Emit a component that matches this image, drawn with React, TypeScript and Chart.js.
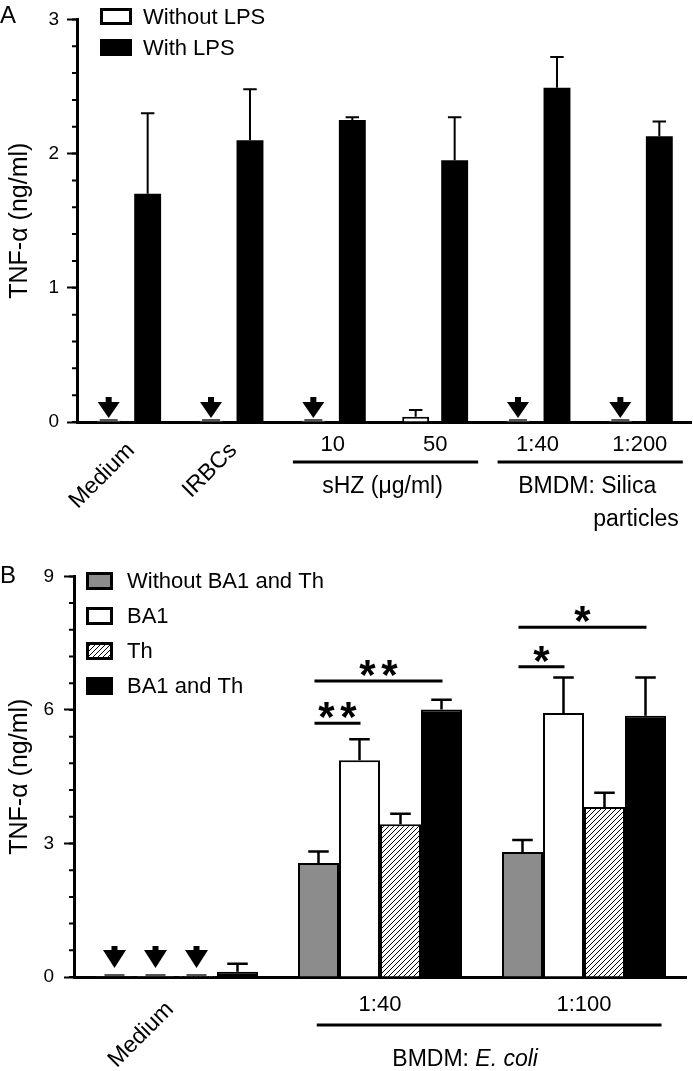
import React, { useEffect, useRef } from 'react';
import { Chart, registerables } from 'chart.js';

Chart.register(...registerables);

const FONT = '"Liberation Sans", Arial, Helvetica, sans-serif';

// ---------------- Panel A data ----------------
const aCategories = ['Medium', 'IRBCs', '10', '50', '1:40', '1:200'];
const aRotated = [true, true, false, false, false, false];
const aSeriesLabels = ['Without LPS', 'With LPS'];
const aWithout = [0.01, 0.01, 0.01, 0.04, 0.01, 0.01];
const aWithoutErr = [0, 0, 0, 0.05, 0, 0];
const aWithoutND = [true, true, true, false, true, true];
const aWith = [1.7, 2.1, 2.25, 1.95, 2.49, 2.13];
const aWithErr = [0.6, 0.38, 0.02, 0.32, 0.23, 0.11];
const aWithND = [false, false, false, false, false, false];
const aYMax = 3;
const aYStep = 1;
const aGroups = [
  { from: 2, to: 3, lines: [[{ text: 'sHZ (\u03bcg/ml)' }]] },
  { from: 4, to: 5, lines: [[{ text: 'BMDM: Silica' }], [{ text: 'particles' }]] },
];

// ---------------- Panel B data ----------------
const bCategories = ['Medium', '1:40', '1:100'];
const bRotated = [true, false, false];
const bSeriesLabels = ['Without BA1 and Th', 'BA1', 'Th', 'BA1 and Th'];
const bNone = [0.02, 2.56, 2.81];
const bNoneErr = [0, 0.26, 0.27];
const bNoneND = [true, false, false];
const bBA1 = [0.02, 4.87, 5.93];
const bBA1Err = [0, 0.47, 0.8];
const bBA1ND = [true, false, false];
const bTh = [0.02, 3.43, 3.82];
const bThErr = [0, 0.24, 0.32];
const bThND = [true, false, false];
const bBoth = [0.12, 6.01, 5.87];
const bBothErr = [0.18, 0.22, 0.86];
const bBothND = [false, false, false];
const bYMax = 9;
const bYStep = 3;
const bSig = [
  { cat: 1, from: 0, to: 1, y: 5.7, label: '**' },
  { cat: 1, from: 0, to: 3, y: 6.65, label: '**' },
  { cat: 2, from: 0, to: 1, y: 6.97, label: '*' },
  { cat: 2, from: 0, to: 3, y: 7.86, label: '*' },
];
const bGroups = [
  { from: 1, to: 2, lines: [[{ text: 'BMDM: ' }, { text: 'E. coli', italic: true }]] },
];

const yTitle = 'TNF-\u03b1 (ng/ml)';

function drawArrow(ctx: any, x: number, tipY: number, a: any) {
  ctx.save();
  ctx.fillStyle = '#000';
  ctx.beginPath();
  ctx.moveTo(x - a.headW / 2, tipY - a.headH);
  ctx.lineTo(x + a.headW / 2, tipY - a.headH);
  ctx.lineTo(x, tipY);
  ctx.closePath();
  ctx.fill();
  ctx.fillRect(x - a.stemW / 2, tipY - a.headH - a.stemH, a.stemW, a.stemH + 1);
  ctx.restore();
}

function drawSegs(ctx: any, segs: any[], x: number, y: number, size: number, align: string) {
  const fonts = segs.map((s) => `${s.italic ? 'italic ' : ''}${size}px ${FONT}`);
  const widths = segs.map((s, i) => {
    ctx.font = fonts[i];
    return ctx.measureText(s.text).width;
  });
  const total = widths.reduce((p, c) => p + c, 0);
  let cx = align === 'right' ? x - total : x - total / 2;
  ctx.textAlign = 'left';
  ctx.textBaseline = 'middle';
  segs.forEach((s, i) => {
    ctx.font = fonts[i];
    ctx.fillText(s.text, cx, y);
    cx += widths[i];
  });
}

const figPlugin: any = {
  id: 'fig',
  afterDatasetsDraw(chart: any, _args: any, opts: any) {
    const ctx = chart.ctx;
    const ys = chart.scales.y;
    const base = ys.getPixelForValue(0);
    chart.data.datasets.forEach((ds: any, di: number) => {
      const meta = chart.getDatasetMeta(di);
      meta.data.forEach((bar: any, i: number) => {
        const v = ds.data[i];
        const e = (ds.err && ds.err[i]) || 0;
        if (e > 0) {
          const yTop = ys.getPixelForValue(v + e);
          const yBar = ys.getPixelForValue(v);
          const half = (bar.width * opts.capRatio) / 2;
          ctx.save();
          ctx.strokeStyle = '#000';
          ctx.lineWidth = opts.errWidth;
          ctx.beginPath();
          ctx.moveTo(bar.x, yBar);
          ctx.lineTo(bar.x, yTop);
          ctx.moveTo(bar.x - half, yTop);
          ctx.lineTo(bar.x + half, yTop);
          ctx.stroke();
          ctx.restore();
        }
        if (ds.nd && ds.nd[i]) {
          ctx.save();
          ctx.fillStyle = '#555';
          ctx.fillRect(bar.x - opts.ndLine / 2, base - 3, opts.ndLine, 2);
          ctx.restore();
          drawArrow(ctx, bar.x, base - opts.arrow.gap, opts.arrow);
        }
      });
    });
  },
  afterDraw(chart: any, _args: any, opts: any) {
    const ctx = chart.ctx;
    const xs = chart.scales.x;
    const ys = chart.scales.y;
    const area = chart.chartArea;
    const base = ys.getPixelForValue(0);
    const labels = chart.data.labels;
    const catW = xs.width / labels.length;
    ctx.save();
    ctx.fillStyle = '#000';
    ctx.strokeStyle = '#000';

    // minor ticks on y axis
    ctx.lineWidth = 2;
    ctx.beginPath();
    const n = Math.round(ys.max / opts.minorStep);
    for (let k = 0; k <= n; k++) {
      const y = ys.getPixelForValue(k * opts.minorStep);
      ctx.moveTo(area.left - opts.minorLen, y);
      ctx.lineTo(area.left, y);
    }
    ctx.stroke();

    // category labels
    labels.forEach((lab: string, i: number) => {
      const x = xs.getPixelForValue(i);
      if (opts.rotated[i]) {
        ctx.save();
        ctx.font = `${opts.rotFont}px ${FONT}`;
        ctx.translate(x + opts.rot.dx, base + opts.rot.dy);
        ctx.rotate(-Math.PI / 4);
        ctx.textAlign = 'right';
        ctx.textBaseline = 'middle';
        ctx.fillText(lab, 0, 0);
        ctx.restore();
      } else {
        ctx.font = `${opts.catFont}px ${FONT}`;
        ctx.textAlign = 'center';
        ctx.textBaseline = 'middle';
        ctx.fillText(lab, x, base + opts.catDy);
      }
    });

    // group brackets
    opts.groups.forEach((g: any) => {
      const x1 = xs.getPixelForValue(g.from) + opts.bracket[0] * catW;
      const x2 = xs.getPixelForValue(g.to) + opts.bracket[1] * catW;
      const y = base + opts.bracketDy;
      ctx.lineWidth = 3;
      ctx.beginPath();
      ctx.moveTo(x1, y);
      ctx.lineTo(x2, y);
      ctx.stroke();
      g.lines.forEach((segs: any[], li: number) => {
        const spec = opts.groupLines[li];
        const ax = spec.align === 'right' ? x2 + spec.dx : (x1 + x2) / 2 + spec.dx;
        drawSegs(ctx, segs, ax, base + spec.dy, opts.groupFont, spec.align);
      });
    });

    // significance bars
    (opts.sig || []).forEach((s: any) => {
      const xa = chart.getDatasetMeta(s.from).data[s.cat].x - 4;
      const xb = chart.getDatasetMeta(s.to).data[s.cat].x + 1;
      const y = ys.getPixelForValue(s.y);
      ctx.lineWidth = 3;
      ctx.beginPath();
      ctx.moveTo(xa, y);
      ctx.lineTo(xb, y);
      ctx.stroke();
      ctx.font = `bold ${opts.starFont}px ${FONT}`;
      ctx.textAlign = 'center';
      ctx.textBaseline = 'alphabetic';
      const chars = s.label.split('');
      const mid = (xa + xb) / 2;
      chars.forEach((c: string, k: number) => {
        const cx = mid + (k - (chars.length - 1) / 2) * opts.starGap;
        ctx.fillText(c, cx, y + opts.starDy);
      });
    });

    // legend
    const L = opts.legend;
    chart.data.datasets.forEach((ds: any, i: number) => {
      const y = L.y + i * L.gap;
      ctx.fillStyle = ds.backgroundColor;
      ctx.fillRect(L.x, y, L.w, L.h);
      ctx.lineWidth = L.lw;
      ctx.strokeStyle = '#000';
      ctx.strokeRect(L.x + L.lw / 2, y + L.lw / 2, L.w - L.lw, L.h - L.lw);
      ctx.fillStyle = '#000';
      ctx.font = `${L.font}px ${FONT}`;
      ctx.textAlign = 'left';
      ctx.textBaseline = 'middle';
      ctx.fillText(ds.label, L.textX, y + L.h / 2 + 1);
    });

    // panel letter
    ctx.font = `${opts.letterFont}px ${FONT}`;
    ctx.textAlign = 'left';
    ctx.textBaseline = 'alphabetic';
    ctx.fillText(opts.letter, 0, opts.letterBaseline);
    ctx.restore();
  },
};

function makeHatch(ctx: any) {
  const c = document.createElement('canvas');
  c.width = 5;
  c.height = 5;
  const g = c.getContext('2d') as any;
  g.fillStyle = '#fff';
  g.fillRect(0, 0, 5, 5);
  g.strokeStyle = '#000';
  g.lineWidth = 1;
  g.beginPath();
  g.moveTo(0, 5);
  g.lineTo(5, 0);
  g.moveTo(-1, 1);
  g.lineTo(1, -1);
  g.moveTo(4, 6);
  g.lineTo(6, 4);
  g.stroke();
  return ctx.createPattern(c, 'repeat');
}

function baseScales(yMax: number, yStep: number, xHeight: number, yWidth: number, tickPad: number) {
  return {
    x: {
      z: 1,
      grid: { display: false, drawTicks: false },
      border: { display: true, color: '#000', width: 3 },
      ticks: { display: false },
      afterFit: (s: any) => {
        s.height = xHeight;
      },
    },
    y: {
      z: 1,
      min: 0,
      max: yMax,
      ticks: { stepSize: yStep, color: '#000', font: { size: 19, family: FONT }, padding: tickPad },
      grid: { drawOnChartArea: false, tickLength: 10, tickWidth: 2, tickColor: '#000' },
      border: { display: true, color: '#000', width: 3 },
      title: {
        display: true,
        text: yTitle,
        color: '#000',
        font: { size: 25, family: FONT },
        padding: { top: 5, bottom: 0 },
      },
      afterFit: (s: any) => {
        s.width = yWidth;
      },
    },
  };
}

function configA(ctx: any) {
  return {
    type: 'bar',
    data: {
      labels: aCategories,
      datasets: [
        {
          label: aSeriesLabels[0],
          data: aWithout,
          err: aWithoutErr,
          nd: aWithoutND,
          backgroundColor: '#ffffff',
          borderColor: '#000',
          borderWidth: 2,
        },
        {
          label: aSeriesLabels[1],
          data: aWith,
          err: aWithErr,
          nd: aWithND,
          backgroundColor: '#000000',
          borderColor: '#000',
          borderWidth: 0,
        },
      ],
    },
    options: {
      responsive: false,
      animation: false,
      devicePixelRatio: 1,
      categoryPercentage: 0.762,
      barPercentage: 0.69,
      layout: { padding: { top: 14, right: 2, left: 0, bottom: 0 } },
      plugins: {
        legend: { display: false },
        tooltip: { enabled: false },
        fig: {
          rotated: aRotated,
          groups: aGroups,
          catFont: 22,
          rotFont: 23,
          groupFont: 23,
          catDy: 23,
          rot: { dx: 3, dy: 25 },
          bracketDy: 40,
          bracket: [-0.39, 0.42],
          groupLines: [
            { dy: 65, align: 'center', dx: -3 },
            { dy: 98, align: 'right', dx: -4 },
          ],
          arrow: { gap: 4, headH: 16, headW: 22, stemH: 5, stemW: 6 },
          ndLine: 18,
          capRatio: 0.5,
          errWidth: 2,
          minorStep: 0.2,
          minorLen: 5,
          legend: { x: 100, y: 8, w: 32, h: 17, gap: 31, textX: 143, font: 22, lw: 3 },
          letter: 'A',
          letterFont: 24,
          letterBaseline: 23,
        },
      },
      scales: baseScales(aYMax, aYStep, 133, 77, 8),
    },
    plugins: [figPlugin],
  };
}

function configB(ctx: any) {
  const hatch = makeHatch(ctx);
  return {
    type: 'bar',
    data: {
      labels: bCategories,
      datasets: [
        { label: bSeriesLabels[0], data: bNone, err: bNoneErr, nd: bNoneND, backgroundColor: '#8c8c8c', borderColor: '#000', borderWidth: 2 },
        { label: bSeriesLabels[1], data: bBA1, err: bBA1Err, nd: bBA1ND, backgroundColor: '#ffffff', borderColor: '#000', borderWidth: 2 },
        { label: bSeriesLabels[2], data: bTh, err: bThErr, nd: bThND, backgroundColor: hatch, borderColor: '#000', borderWidth: 2 },
        { label: bSeriesLabels[3], data: bBoth, err: bBothErr, nd: bBothND, backgroundColor: '#000000', borderColor: '#000', borderWidth: 2 },
      ],
    },
    options: {
      responsive: false,
      animation: false,
      devicePixelRatio: 1,
      categoryPercentage: 0.804,
      barPercentage: 1.0,
      layout: { padding: { top: 17, right: 7, left: 0, bottom: 0 } },
      plugins: {
        legend: { display: false },
        tooltip: { enabled: false },
        fig: {
          rotated: bRotated,
          groups: bGroups,
          sig: bSig,
          starFont: 42,
          starGap: 22,
          starDy: 8,
          catFont: 22,
          rotFont: 23,
          groupFont: 23,
          catDy: 28,
          rot: { dx: -6, dy: 29 },
          bracketDy: 48,
          bracket: [-0.31, 0.38],
          groupLines: [{ dy: 83, align: 'center', dx: -24 }],
          arrow: { gap: 9, headH: 18, headW: 23, stemH: 4, stemW: 6 },
          ndLine: 20,
          capRatio: 0.5,
          errWidth: 2.5,
          minorStep: 0.6,
          minorLen: 5,
          legend: { x: 86, y: 17, w: 27, h: 18, gap: 35, textX: 127, font: 22, lw: 3 },
          letter: 'B',
          letterFont: 24,
          letterBaseline: 28,
        },
      },
      scales: baseScales(bYMax, bYStep, 94, 74, 10),
    },
    plugins: [figPlugin],
  };
}

function Panel({ make, width, height }: { make: (ctx: any) => any; width: number; height: number }) {
  const ref = useRef<HTMLCanvasElement>(null);
  useEffect(() => {
    const canvas = ref.current as HTMLCanvasElement;
    const chart = new Chart(canvas, make(canvas.getContext('2d')));
    return () => chart.destroy();
  }, []);
  return <canvas ref={ref} width={width} height={height} style={{ display: 'block', width, height }} />;
}

export default function App() {
  return (
    <div style={{ position: 'absolute', left: 0, top: 0, width: 693, height: 1071, background: '#fff' }}>
      <Panel make={configA} width={693} height={555} />
      <Panel make={configB} width={693} height={516} />
    </div>
  );
}
